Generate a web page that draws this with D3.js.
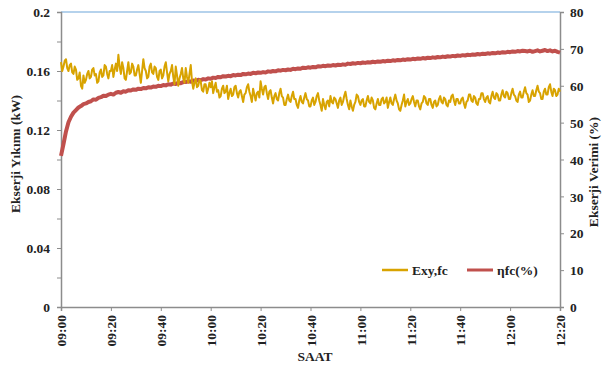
<!DOCTYPE html>
<html><head><meta charset="utf-8">
<script src="https://cdn.jsdelivr.net/npm/d3@7"></script>
<style>body{margin:0;background:#fff}svg{display:block}text{font-family:"Liberation Serif","Times New Roman",serif;font-weight:bold;fill:#222}</style>
</head><body><svg id="c" width="602" height="365"></svg>
<script>
const xTickLabels = ["09:00","09:20","09:40","10:00","10:20","10:40","11:00","11:20","11:40","12:00","12:20"];
const rightTicks = [0,10,20,30,40,50,60,70,80];
const seriesNames = ["Exy,fc","\u03b7fc(%)"];
// Exy,fc (kW): one sample every half minute from 09:00
const exy = [
0.166,0.160,0.163,0.167,0.168,0.162,0.160,0.164,0.165,0.159,0.158,0.163,0.161,0.154,0.155,0.159,0.150,0.148,0.157,0.152,
0.154,0.158,0.160,0.155,0.156,0.161,0.162,0.157,0.158,0.152,0.153,0.159,0.161,0.156,0.157,0.164,0.163,0.158,0.155,0.160,
0.160,0.164,0.156,0.161,0.165,0.160,0.171,0.163,0.158,0.166,0.162,0.155,0.154,0.160,0.166,0.158,0.159,0.165,0.163,0.157,
0.157,0.161,0.164,0.158,0.152,0.160,0.168,0.162,0.160,0.155,0.156,0.163,0.165,0.159,0.158,0.163,0.162,0.156,0.154,0.160,
0.161,0.155,0.157,0.163,0.166,0.159,0.153,0.158,0.160,0.164,0.156,0.151,0.163,0.157,0.150,0.155,0.158,0.162,0.155,0.152,
0.162,0.156,0.152,0.158,0.164,0.153,0.148,0.152,0.155,0.149,0.150,0.154,0.153,0.147,0.146,0.151,0.151,0.145,0.148,0.152,
0.149,0.153,0.145,0.149,0.152,0.146,0.147,0.142,0.143,0.148,0.150,0.145,0.146,0.150,0.141,0.145,0.148,0.143,0.144,0.149,
0.150,0.145,0.142,0.146,0.147,0.143,0.139,0.144,0.145,0.149,0.151,0.146,0.143,0.139,0.148,0.144,0.140,0.145,0.146,0.142,
0.153,0.148,0.144,0.149,0.150,0.145,0.141,0.146,0.147,0.142,0.138,0.143,0.145,0.141,0.140,0.145,0.148,0.143,0.142,0.137,
0.137,0.141,0.144,0.140,0.139,0.143,0.146,0.141,0.141,0.137,0.135,0.140,0.143,0.139,0.138,0.142,0.145,0.141,0.140,0.136,
0.136,0.140,0.142,0.137,0.139,0.143,0.145,0.140,0.137,0.133,0.141,0.137,0.134,0.139,0.140,0.136,0.143,0.139,0.138,0.142,
0.141,0.138,0.135,0.140,0.142,0.137,0.139,0.143,0.146,0.141,0.137,0.134,0.140,0.136,0.133,0.137,0.139,0.144,0.143,0.139,
0.137,0.140,0.141,0.136,0.136,0.140,0.143,0.139,0.138,0.142,0.140,0.135,0.134,0.138,0.141,0.137,0.137,0.141,0.142,0.138,
0.139,0.142,0.135,0.139,0.142,0.138,0.137,0.141,0.144,0.140,0.138,0.134,0.133,0.137,0.140,0.144,0.136,0.139,0.141,0.137,
0.138,0.141,0.143,0.139,0.136,0.140,0.140,0.136,0.134,0.138,0.139,0.143,0.142,0.138,0.137,0.141,0.141,0.137,0.135,0.139,
0.140,0.136,0.137,0.141,0.143,0.139,0.138,0.142,0.141,0.137,0.136,0.140,0.139,0.143,0.144,0.140,0.137,0.141,0.141,0.138,
0.138,0.141,0.142,0.138,0.135,0.139,0.140,0.144,0.144,0.140,0.139,0.143,0.142,0.138,0.137,0.141,0.141,0.145,0.145,0.141,
0.139,0.142,0.143,0.139,0.138,0.143,0.146,0.142,0.141,0.145,0.144,0.140,0.140,0.144,0.147,0.143,0.142,0.146,0.145,0.141,
0.141,0.145,0.148,0.144,0.143,0.140,0.139,0.144,0.146,0.142,0.142,0.146,0.149,0.145,0.144,0.139,0.140,0.144,0.147,0.143,
0.143,0.147,0.150,0.146,0.145,0.141,0.141,0.146,0.148,0.144,0.144,0.149,0.151,0.146,0.143,0.148,0.147,0.143,0.144,0.148,
0.146];
// ηfc (%): one sample per minute from 09:00
const eta = [
41.0,44.2,47.6,50.1,51.6,52.7,53.4,54.1,54.5,55.0,
55.2,55.6,55.8,56.3,56.2,56.7,56.9,57.3,57.2,57.6,
57.8,57.6,58.1,58.3,58.1,58.5,58.4,58.8,58.7,59.0,
58.9,59.2,59.1,59.4,59.3,59.6,59.5,59.8,59.7,60.0,
59.9,60.2,60.1,60.4,60.3,60.6,60.5,60.8,60.7,61.0,
61.0,61.2,61.1,61.4,61.3,61.6,61.5,61.8,61.7,62.0,
61.9,62.2,62.1,62.4,62.3,62.6,62.5,62.7,62.6,62.9,
62.8,63.0,62.9,63.2,63.1,63.3,63.2,63.5,63.4,63.6,
63.5,63.7,63.6,63.9,63.8,64.0,63.9,64.2,64.1,64.3,
64.2,64.4,64.3,64.6,64.5,64.7,64.6,64.9,64.8,65.0,
64.9,65.1,65.0,65.3,65.2,65.4,65.3,65.5,65.4,65.6,
65.5,65.7,65.6,65.8,65.7,66.0,65.9,66.1,66.0,66.2,
66.1,66.3,66.2,66.4,66.3,66.5,66.4,66.6,66.5,66.7,
66.6,66.8,66.7,66.9,66.8,67.0,66.9,67.1,67.0,67.2,
67.1,67.3,67.2,67.4,67.3,67.5,67.4,67.6,67.5,67.7,
67.6,67.8,67.7,67.9,67.8,68.0,67.9,68.1,68.0,68.2,
68.1,68.3,68.2,68.4,68.3,68.5,68.4,68.6,68.5,68.7,
68.6,68.8,68.7,68.9,68.8,69.0,68.9,69.1,69.0,69.2,
69.1,69.3,69.2,69.4,69.3,69.5,69.4,69.3,69.5,69.2,
69.4,69.6,69.3,69.5,69.7,69.4,69.6,69.3,69.5,69.2,
69.0];

const svg = d3.select("#c");
const L=61, R=560, T=12, B=307;
const x = d3.scaleLinear().domain([0,200]).range([L,R]);
const yL = d3.scaleLinear().domain([0,0.2]).range([B,T]);
const yR = d3.scaleLinear().domain([0,80]).range([B,T]);
const axisColor="#8c8c8c";

svg.append("line").attr("x1",L).attr("x2",R).attr("y1",T).attr("y2",T).attr("stroke","#9dc3e6").attr("stroke-width",1.5);

const gl = svg.append("g").attr("transform",`translate(${L},0)`)
  .call(d3.axisLeft(yL).tickValues(d3.range(0,0.2001,0.02)).tickSize(4).tickFormat(d=>{
    const k=Math.round(d*100); return (k%4===0)? (k===0?"0":String(k/100)) : "";}));
const gr = svg.append("g").attr("transform",`translate(${R},0)`)
  .call(d3.axisRight(yR).tickValues(rightTicks).tickSize(4).tickFormat(d3.format("d")));
const gb = svg.append("g").attr("transform",`translate(0,${B})`)
  .call(d3.axisBottom(x).tickValues(d3.range(0,201,20)).tickSize(4).tickFormat((d,i)=>xTickLabels[i]));
[gl,gr,gb].forEach(g=>{
  g.attr("font-family",null).attr("font-size",null);
  g.select(".domain").attr("stroke",axisColor).attr("stroke-width",1.5);
  g.selectAll(".tick line").attr("stroke",axisColor);
  g.selectAll("text").attr("font-size",13.5).attr("fill","#222");
});
gl.selectAll("text").attr("x",-11).attr("dy","0.35em");
gr.selectAll("text").attr("x",10).attr("dy","0.35em");
gb.selectAll("text").attr("transform","rotate(-90)").attr("text-anchor","end").attr("x",-8).attr("y",0).attr("dy","0.35em");

const lineE = d3.line().x((d,i)=>x(i/2)).y(d=>yL(d));
const lineN = d3.line().x((d,i)=>x(i)).y(d=>yR(d));
svg.append("path").datum(eta).attr("d",lineN).attr("fill","none").attr("stroke","#c0504d").attr("stroke-width",4).attr("stroke-linejoin","round");
svg.append("path").datum(exy).attr("d",lineE).attr("fill","none").attr("stroke","#d8a300").attr("stroke-width",2).attr("stroke-linejoin","round");

const leg = [{c:"#d8a300",x:382,w:2.5},{c:"#c0504d",x:467,w:3}];
leg.forEach((l,i)=>{
  svg.append("line").attr("x1",l.x).attr("x2",l.x+26).attr("y1",270).attr("y2",270).attr("stroke",l.c).attr("stroke-width",l.w);
  svg.append("text").attr("x",l.x+30).attr("y",270).attr("dy","0.35em").attr("font-size",13.5).text(seriesNames[i]);
});

svg.append("text").attr("transform","translate(20,154) rotate(-90)").attr("text-anchor","middle").attr("font-size",13.5).text("Ekserji Yıkımı (kW)");
svg.append("text").attr("transform","translate(598,172) rotate(-90)").attr("text-anchor","middle").attr("font-size",13.5).text("Ekserji Verimi (%)");
svg.append("text").attr("x",315).attr("y",361).attr("text-anchor","middle").attr("font-size",13.5).text("SAAT");
</script></body></html>
